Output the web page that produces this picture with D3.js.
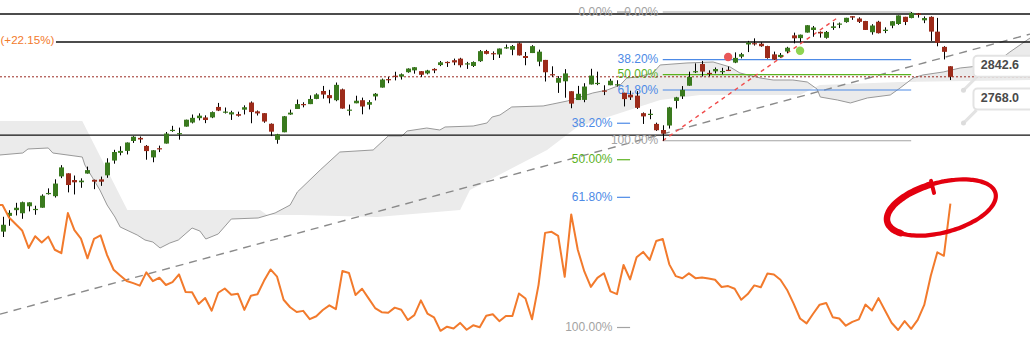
<!DOCTYPE html>
<html><head><meta charset="utf-8">
<script src="https://cdn.jsdelivr.net/npm/d3@7"></script>
<style>html,body{margin:0;padding:0;background:#fff;overflow:hidden}svg{display:block}</style>
</head><body><svg id="chart" width="1030" height="348"></svg>
<script>
// S&P 500 daily candles, 7 Jan 2019 – 5 Aug 2019 (bar index 0..145)
const opens = [2535.6,2568.1,2580.0,2573.5,2588.1,2580.3,2585.1,2614.8,2609.3,2651.3,2657.9,2643.5,2638.8,2657.4,2644.0,2644.9,2653.6,2685.5,2702.3,2706.5,2728.3,2735.1,2717.5,2692.4,2712.4,2722.6,2750.3,2743.5,2760.2,2769.3,2779.1,2780.7,2780.7,2804.4,2792.4,2787.5,2788.1,2798.2,2814.4,2794.4,2790.3,2766.5,2730.8,2747.6,2787.3,2799.8,2811.0,2810.8,2822.6,2840.8,2831.3,2819.7,2844.5,2796.0,2812.7,2819.7,2809.4,2828.3,2848.6,2868.2,2876.1,2874.0,2884.2,2888.5,2886.6,2881.4,2891.9,2900.9,2908.3,2912.3,2916.0,2904.8,2898.8,2910.0,2934.0,2929.0,2925.8,2940.6,2937.1,2952.3,2922.2,2929.2,2908.9,2913.0,2879.6,2859.8,2863.1,2840.2,2820.1,2820.4,2855.8,2858.6,2841.9,2854.0,2856.1,2836.7,2832.4,2830.0,2790.3,2786.9,2766.2,2752.6,2762.6,2818.1,2828.5,2852.9,2885.8,2903.3,2882.7,2886.2,2886.8,2889.8,2906.7,2920.6,2949.6,2952.7,2951.4,2945.8,2926.1,2919.7,2932.9,2971.4,2964.7,2978.1,2984.3,2979.8,2965.5,2989.3,2999.6,3003.4,3017.8,3012.1,3006.0,2978.9,3004.3,2981.9,2994.7,2998.8,3016.3,3013.3,3024.5,3007.7,3016.2,2980.3,2943.9,2898.1];
const highs = [2566.2,2579.8,2595.3,2597.8,2596.3,2589.3,2613.1,2625.8,2645.1,2675.5,2657.9,2653.2,2647.2,2672.4,2644.5,2650.9,2690.4,2708.9,2716.7,2725.0,2739.0,2738.1,2719.3,2708.1,2718.1,2748.2,2761.9,2757.9,2775.7,2787.3,2789.9,2785.4,2794.2,2813.5,2803.1,2795.8,2793.7,2808.0,2816.9,2796.4,2790.3,2767.3,2744.1,2784.0,2798.3,2821.2,2815.0,2830.7,2835.4,2852.4,2843.5,2860.3,2846.2,2809.8,2829.9,2825.6,2819.7,2836.0,2869.4,2872.9,2885.3,2881.3,2893.2,2896.0,2886.9,2889.7,2893.4,2910.5,2909.6,2916.1,2918.0,2908.4,2909.5,2936.3,2936.8,2933.1,2939.9,2949.5,2948.2,2954.1,2931.7,2947.9,2937.3,2913.0,2898.0,2875.0,2891.3,2840.2,2852.5,2858.7,2892.2,2885.5,2853.9,2868.9,2865.5,2836.7,2841.4,2840.5,2792.0,2799.0,2769.0,2763.1,2804.5,2827.3,2852.1,2885.5,2904.8,2910.6,2888.6,2895.2,2894.5,2897.3,2930.8,2929.7,2958.1,2964.2,2954.9,2946.5,2932.6,2929.3,2944.0,2977.9,2973.2,2995.8,2994.0,2980.8,2981.9,3003.0,3002.3,3013.9,3017.8,3015.0,3006.3,2998.3,3006.5,2990.7,3005.9,3019.6,3016.3,3028.0,3025.6,3017.2,3017.4,3013.6,2945.5,2898.1];
const lows = [2524.6,2547.6,2568.9,2562.0,2577.4,2570.4,2585.1,2612.7,2606.4,2647.6,2617.3,2612.9,2627.0,2657.3,2624.1,2631.1,2648.3,2678.7,2696.9,2698.8,2724.0,2724.2,2687.3,2681.8,2703.9,2722.6,2748.6,2731.2,2760.2,2767.3,2774.1,2767.9,2779.1,2795.0,2789.5,2775.1,2782.5,2787.4,2767.7,2785.0,2768.7,2739.1,2722.3,2747.6,2786.7,2799.8,2803.5,2810.8,2822.0,2823.3,2812.6,2817.4,2800.5,2785.0,2812.7,2787.7,2798.8,2819.2,2848.6,2858.8,2865.2,2867.1,2883.0,2880.8,2873.3,2879.1,2882.0,2898.4,2896.5,2900.7,2895.4,2891.9,2896.4,2908.5,2926.1,2912.8,2917.6,2939.4,2924.1,2923.4,2900.5,2929.2,2898.2,2862.6,2873.3,2836.4,2825.4,2801.4,2820.1,2815.1,2855.8,2854.2,2831.3,2854.0,2851.1,2805.5,2820.2,2799.8,2766.1,2776.7,2750.5,2728.8,2755.8,2800.9,2822.5,2852.9,2882.2,2874.4,2874.7,2881.4,2879.6,2886.9,2905.4,2916.5,2931.5,2946.9,2944.1,2916.0,2913.0,2918.6,2929.1,2952.2,2955.9,2978.0,2968.0,2966.0,2963.4,2984.6,2988.8,3001.9,3008.8,3001.2,2984.4,2973.1,2975.9,2976.7,2988.6,2996.8,2996.2,3012.6,3014.3,3000.9,2958.1,2945.2,2914.1,2866.0];
const closes = [2549.7,2574.4,2585.0,2596.6,2596.3,2582.6,2610.3,2616.1,2636.0,2670.7,2632.9,2638.7,2642.3,2664.8,2640.0,2640.0,2681.1,2704.1,2706.5,2724.9,2737.7,2731.6,2706.1,2707.9,2709.8,2744.7,2753.0,2745.7,2775.6,2779.8,2784.7,2774.9,2792.7,2796.1,2793.9,2792.4,2784.5,2803.7,2792.8,2789.7,2771.5,2748.9,2743.1,2783.3,2791.5,2810.9,2808.5,2822.5,2832.9,2832.6,2824.2,2854.9,2800.7,2798.4,2818.5,2805.4,2815.4,2834.4,2867.2,2867.2,2873.4,2879.4,2892.7,2895.8,2878.2,2888.2,2888.3,2907.4,2905.6,2907.1,2900.5,2905.0,2908.0,2933.7,2927.3,2926.2,2939.9,2943.0,2945.8,2923.7,2917.5,2945.6,2932.5,2884.1,2879.4,2870.7,2881.4,2811.9,2834.4,2851.0,2876.3,2859.5,2840.2,2864.4,2856.3,2822.2,2826.1,2802.4,2783.0,2788.9,2752.1,2744.5,2803.3,2826.2,2843.5,2873.3,2886.7,2885.7,2879.8,2891.6,2887.0,2889.7,2917.8,2926.5,2954.2,2950.5,2945.4,2917.4,2913.8,2924.9,2941.8,2964.3,2973.0,2995.8,2990.4,2976.0,2979.6,2993.1,2999.9,3013.8,3014.3,3004.0,2984.4,2995.1,2976.6,2985.0,3005.5,3019.6,3003.7,3025.9,3021.0,3013.2,2980.4,2953.6,2932.1,2873.5];

// CBOE VIX closes, starting one session earlier (index -1)
const vixStart = -1;
const vix = [21.38,21.40,20.47,19.98,19.50,18.19,19.07,18.60,19.04,18.06,17.80,
 20.80,19.52,18.89,17.42,18.87,19.13,17.66,16.57,16.14,15.73,
 15.57,15.38,16.37,15.72,15.97,15.43,15.65,16.22,14.91,14.88,
 14.02,14.46,13.51,14.85,15.17,14.70,14.78,13.57,14.63,14.74,
 15.74,16.59,16.05,14.33,13.77,13.41,13.50,12.88,13.10,13.56,
 13.91,13.63,16.48,16.33,14.68,15.15,14.43,13.71,13.40,13.36,
 13.74,13.58,12.82,13.18,14.28,13.30,13.02,12.01,12.32,12.18,
 12.60,12.09,12.42,12.28,13.14,13.25,12.73,13.11,13.12,14.80,
 14.42,12.87,15.44,19.32,19.40,19.10,16.04,20.70,18.06,16.44,
 15.29,15.96,16.31,14.95,14.75,16.92,15.85,17.50,17.90,17.30,
 18.71,18.86,16.97,16.09,15.93,16.30,15.94,15.99,15.91,15.82,
 15.28,15.35,15.15,14.33,14.75,15.40,15.26,16.28,16.21,15.82,
 15.08,14.06,12.93,12.57,13.28,13.96,14.09,13.03,12.93,12.39,
 12.68,12.86,13.97,13.53,14.45,13.53,12.61,12.07,12.74,12.16,
 12.83,13.94,16.12,17.87,17.61,21.51];
const vixChangeLabel = "(+22.15%)";

// Ichimoku cloud boundaries as [bar index, price]; the lagging span is outlined
const spanLined = [[-0.4,2697.6],[3.1,2701.9],[3.9,2710.7],[7.0,2712.9],[7.7,2701.9],[12.2,2693.2],[12.6,2675.9],[14.9,2622.3],[16.0,2590.7],[17.2,2565.7],[18.0,2545.1],[20.6,2528.7],[21.8,2518.5],[23.0,2514.4],[24.1,2502.3],[25.6,2512.4],[26.9,2518.5],[29.0,2543.0],[30.2,2536.8],[31.1,2520.5],[33.0,2530.8],[35.0,2561.6],[39.1,2563.7],[41.7,2574.1],[44.0,2590.7],[45.1,2618.1],[48.6,2665.1],[51.6,2704.1],[56.7,2708.5],[59.0,2739.3],[61.1,2739.3],[61.9,2750.4],[64.9,2757.0],[66.9,2752.6],[67.7,2759.3],[72.0,2761.5],[74.1,2768.2],[74.9,2781.7],[76.1,2786.2],[77.9,2804.3],[82.7,2806.6],[84.2,2811.1],[86.4,2817.9],[90.3,2836.2],[92.5,2843.0],[94.5,2854.5],[95.5,2870.8],[97.1,2873.1],[99.5,2882.4],[100.6,2901.1],[104.7,2905.8],[108.7,2908.1],[111.3,2896.4],[112.8,2882.4],[115.9,2870.8],[117.9,2866.1],[120.9,2866.1],[123.1,2861.5],[124.6,2845.3],[125.1,2826.9],[127.7,2820.2],[129.7,2813.4],[132.3,2824.8],[135.8,2831.6],[137.3,2847.6],[139.3,2870.8],[140.8,2877.8],[143.9,2884.7],[146.5,2894.1],[149.5,2898.8],[152.1,2908.1],[154.1,2931.7],[157.2,2965.2]];
const spanOpen = [[-0.4,2772.7],[12.2,2772.7],[19.1,2580.3],[39.4,2580.3],[40.5,2569.9],[45.5,2569.9],[57.3,2565.7],[70.0,2580.3],[71.5,2622.3],[83.3,2708.5],[87.9,2759.3],[100.6,2820.2],[106.7,2831.6],[122.0,2831.6],[125.0,2854.5],[137.3,2861.5],[157.2,2866.1]];

// Horizontal support / resistance levels
const levels = [3023.1, 2955.5, 2741.4];
// Retracement swings
const fibRatios = [0, 0.382, 0.5, 0.618, 1];
const fibColors = ["#a3a3a3", "#4d8ae6", "#5cb21f", "#4d8ae6", "#a3a3a3"];
const fibMajor = {low: 2728.81, high: 3027.98, from: 101, to: 139};
const fibLong = {low: 2346.58, high: 3027.98, from: 94, to: 96};
// Trend lines as [bar index, price] anchors
const trendLong = [[0, 2373.3], [145, 2922.9]];
const trendShort = [[101, 2728.81], [128, 3017.0]];
// Signal dots
const signals = [{i: 111, p: 2920.0, color: "#e8585a"}, {i: 122, p: 2934.8, color: "#8fd452"}];
// Projected targets
const targets = [2842.6, 2768.0];
const targetIndex = 147;

const W = 1030, H = 348;
const svg = d3.select("#chart");
const x = d3.scaleLinear().domain([0, 145]).range([2.5, 950.4]);
const y = d3.scaleLog().domain([3028, 2346.58]).range([12, 327.5]);
const yv = d3.scaleLinear().domain([21.4, 12]).range([205, 330.96]);
const font = "'Liberation Sans', Arial, sans-serif";

// cloud
const cloudPts = spanOpen.map(d => [x(d[0]), y(d[1])]).concat(spanLined.slice().reverse().map(d => [x(d[0]), y(d[1])]));
svg.append("path").attr("d", "M" + cloudPts.map(p => p.join(",")).join("L") + "Z")
  .attr("fill", "#ebebeb").attr("stroke", "none");
svg.append("path").attr("d", d3.line().x(d => x(d[0])).y(d => y(d[1]))(spanLined))
  .attr("fill", "none").attr("stroke", "#999").attr("stroke-width", 1);

// long trend line extended across the chart
{
  const [a, b] = trendLong;
  const x1 = x(a[0]), y1 = y(a[1]), x2 = x(b[0]), y2 = y(b[1]);
  const s = (y2 - y1) / (x2 - x1);
  svg.append("line").attr("x1", 0).attr("y1", y1 - s * x1).attr("x2", W).attr("y2", y1 + s * (W - x1))
    .attr("stroke", "#8a8a8a").attr("stroke-width", 1.4).attr("stroke-dasharray", "8,6");
}

// horizontal levels
svg.selectAll("line.level").data(levels).join("line").attr("class", "level")
  .attr("x1", 0).attr("x2", W).attr("y1", d => y(d)).attr("y2", d => y(d))
  .attr("stroke", "#111").attr("stroke-width", 1.3);

// fib retracements
function drawFib(f) {
  const g = svg.append("g");
  fibRatios.forEach((r, k) => {
    const p = f.high - r * (f.high - f.low);
    const yy = y(p);
    g.append("line").attr("x1", x(f.from)).attr("x2", x(f.to)).attr("y1", yy).attr("y2", yy)
      .attr("stroke", fibColors[k]).attr("stroke-width", 1.2);
    g.append("text").attr("x", x(f.from) - 4.5).attr("y", yy + 0.5).attr("text-anchor", "end")
      .attr("dominant-baseline", "middle").attr("font-family", font).attr("font-size", 12)
      .attr("fill", fibColors[k]).text((r * 100).toFixed(2) + "%");
  });
}
drawFib(fibLong);
drawFib(fibMajor);

// short trend line
svg.append("line").attr("x1", x(trendShort[0][0])).attr("y1", y(trendShort[0][1]))
  .attr("x2", x(trendShort[1][0])).attr("y2", y(trendShort[1][1]))
  .attr("stroke", "#f04c4c").attr("stroke-width", 1.4).attr("stroke-dasharray", "4,4");

// last price line
svg.append("line").attr("x1", 0).attr("x2", W)
  .attr("y1", y(closes[closes.length - 1])).attr("y2", y(closes[closes.length - 1]))
  .attr("stroke", "#9a2a22").attr("stroke-width", 1).attr("stroke-dasharray", "2,2");

// candles
const up = "#3a7a1e", down = "#9c2b1a";
const cg = svg.append("g");
opens.forEach((o, i) => {
  const c = closes[i], cx = Math.round(x(i)) + 0.5;
  cg.append("line").attr("x1", cx).attr("x2", cx).attr("y1", y(highs[i])).attr("y2", y(lows[i]))
    .attr("stroke", "#000").attr("stroke-width", 1);
  const top = y(Math.max(o, c)), bot = y(Math.min(o, c));
  cg.append("rect").attr("x", cx - 2.5).attr("width", 5).attr("y", top).attr("height", Math.max(1.2, bot - top))
    .attr("fill", c >= o ? up : down);
});

// signal dots
svg.selectAll("circle.sig").data(signals).join("circle").attr("class", "sig")
  .attr("cx", d => x(d.i)).attr("cy", d => y(d.p)).attr("r", 4.2).attr("fill", d => d.color);

// VIX overlay
svg.append("path").attr("d", d3.line().x((d, k) => x(k + vixStart)).y(d => yv(d))(vix))
  .attr("fill", "none").attr("stroke", "#f27a2c").attr("stroke-width", 2).attr("stroke-linejoin", "round");
{
  const t = svg.append("text").attr("x", 0.5).attr("y", 41).attr("text-anchor", "start")
    .attr("dominant-baseline", "middle").attr("font-family", font).attr("font-size", 11.6)
    .attr("fill", "#f27a2c").text(vixChangeLabel);
  const bb = t.node().getBBox();
  svg.insert("rect", () => t.node()).attr("x", 0).attr("y", bb.y).attr("width", bb.width + 2)
    .attr("height", bb.height).attr("fill", "#fff");
}

// projected target callouts
targets.forEach(v => {
  const ax = x(targetIndex), ay = y(v);
  const g = svg.append("g");
  g.append("line").attr("x1", ax).attr("y1", ay).attr("x2", ax + 13).attr("y2", ay - 13)
    .attr("stroke", "#e3e3e3").attr("stroke-width", 3);
  g.append("circle").attr("cx", ax).attr("cy", ay).attr("r", 2.5).attr("fill", "#dcdcdc");
  g.append("rect").attr("x", ax + 10).attr("y", ay - 34.5).attr("width", 80).attr("height", 21).attr("rx", 4)
    .attr("fill", "#fff").attr("stroke", "#e3e3e3").attr("stroke-width", 2);
  g.append("text").attr("x", ax + 36.5).attr("y", ay - 24).attr("text-anchor", "middle")
    .attr("dominant-baseline", "middle").attr("font-family", font).attr("font-size", 12.5)
    .attr("font-weight", "bold").attr("fill", "#4a4a4a").text(v.toFixed(1));
});

// hand-drawn ring around the latest VIX spike
{
  const n = vix.length - 1;
  const cx = x(n + vixStart) - 9, cy = yv(vix[n]) + 4;
  const a = 56, b = 25, rot = -15 * Math.PI / 180;
  const pt = t => {
    const ex = a * Math.cos(t), ey = b * Math.sin(t);
    return [cx + ex * Math.cos(rot) - ey * Math.sin(rot), cy + ex * Math.sin(rot) + ey * Math.cos(rot)];
  };
  const ring = d3.range(0, 361, 4).map(d => pt((-80 + d) * Math.PI / 180));
  svg.append("path").attr("d", d3.line().curve(d3.curveBasis)(ring))
    .attr("fill", "none").attr("stroke", "#e3000f").attr("stroke-width", 4.2).attr("stroke-linecap", "round");
  const thick = d3.range(0, 121, 4).map(d => pt((-95 - d) * Math.PI / 180));
  svg.append("path").attr("d", d3.line().curve(d3.curveBasis)(thick))
    .attr("fill", "none").attr("stroke", "#e3000f").attr("stroke-width", 6.5).attr("stroke-linecap", "round");
  const s = pt(-92 * Math.PI / 180);
  svg.append("path").attr("d", `M${s[0] - 2},${s[1] - 3}L${s[0] + 1},${s[1] + 9}`)
    .attr("stroke", "#e3000f").attr("stroke-width", 4).attr("stroke-linecap", "round");
}
</script></body></html>
